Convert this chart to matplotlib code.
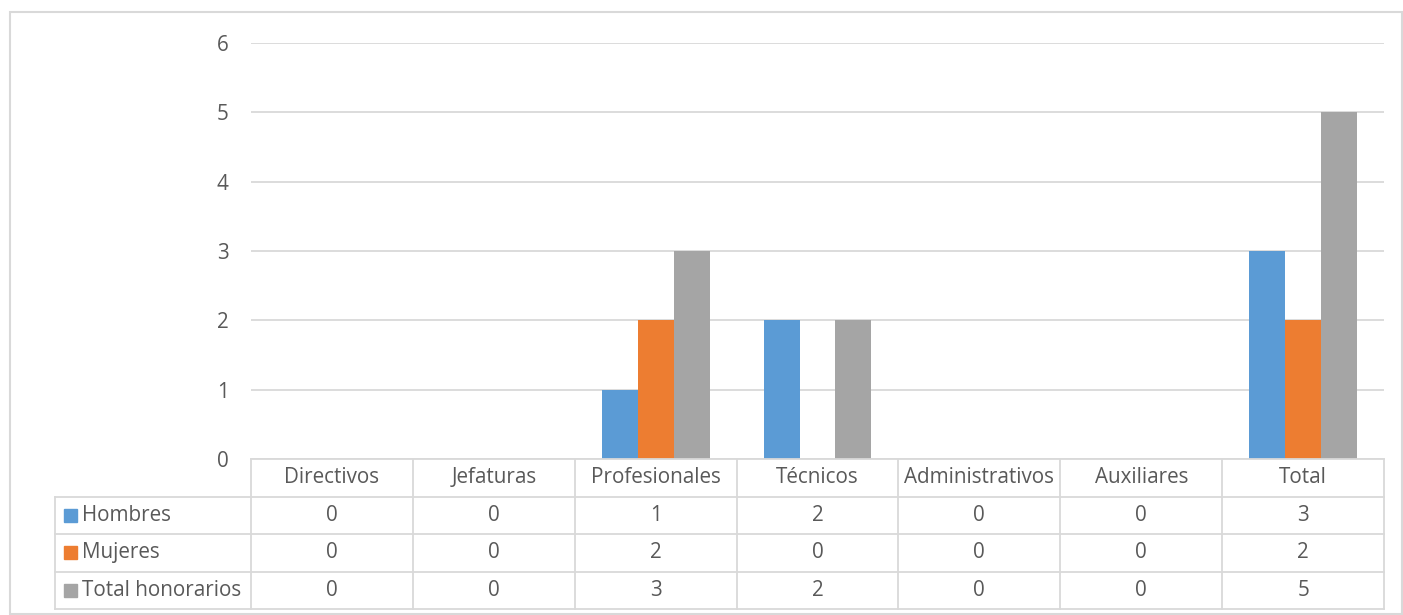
import matplotlib
matplotlib.use("Agg")
import matplotlib.pyplot as plt
from matplotlib.patches import Rectangle

categories = ["Directivos", "Jefaturas", "Profesionales", "Técnicos", "Administrativos", "Auxiliares", "Total"]
series_names = ["Hombres", "Mujeres", "Total honorarios"]
hombres = [0, 0, 1, 2, 0, 0, 3]
mujeres = [0, 0, 2, 0, 0, 0, 2]
total_hon = [0, 0, 3, 2, 0, 0, 5]
yticks = [0, 1, 2, 3, 4, 5, 6]

series = [hombres, mujeres, total_hon]
colors = ["#5b9bd5", "#ed7d31", "#a5a5a5"]
txt = "#595959"
gridc = "#d9d9d9"
FONT = "Open Sans"
FS = 14.9

W, H = 1403, 615
fig = plt.figure(figsize=(W / 100, H / 100), dpi=100)

def fx(px):
    return px / W

def fy(py):
    return 1 - py / H

# outer border
fig.add_artist(Rectangle((fx(10), fy(614)), fx(1402) - fx(10), fy(12) - fy(614),
                         transform=fig.transFigure, fill=False, edgecolor=gridc, lw=1.5))

x0, x1 = 251, 1384
ytop, ybase = 43, 459
ax = fig.add_axes([fx(x0), fy(ybase), fx(x1) - fx(x0), fy(ytop) - fy(ybase)])
n = len(categories)
ax.set_xlim(-0.5, n - 0.5)
ax.set_ylim(0, 6)
for s in ax.spines.values():
    s.set_visible(False)
ax.set_xticks([])
ax.set_yticks(yticks)
ax.set_yticklabels([str(v) for v in yticks], fontfamily=FONT, fontsize=FS, color=txt)
ax.tick_params(axis="y", length=0, pad=16)
for v in yticks:
    ax.axhline(v, color=gridc, lw=1.3, zorder=0)

bw = 0.222
for i, (vals, c) in enumerate(zip(series, colors)):
    xs = [k + (i - 1) * bw for k in range(n)]
    ax.bar(xs, vals, width=bw, color=c, zorder=2)

# data table
colw = (x1 - x0) / n
tl = 55
tax = fig.add_axes([fx(tl), fy(609), fx(x1) - fx(tl), fy(ybase) - fy(609)])
xl = -0.5 - (x0 - tl) / colw
tax.set_xlim(xl, n - 0.5)
tax.set_ylim(4, 0)
tax.axis("off")
lw = 1.3
tax.plot([-0.5, n - 0.5], [0, 0], color=gridc, lw=lw, clip_on=False)
for r in range(1, 5):
    tax.plot([xl, n - 0.5], [r, r], color=gridc, lw=lw, clip_on=False)
tax.plot([xl, xl], [1, 4], color=gridc, lw=lw, clip_on=False)
for k in range(n + 1):
    tax.plot([k - 0.5, k - 0.5], [0, 4], color=gridc, lw=lw, clip_on=False)

for k, cat in enumerate(categories):
    tax.text(k, 0.5, cat, ha="center", va="center", fontfamily=FONT, fontsize=FS, color=txt)
sq_w = 13 / colw
sq_h = 13 / 37.5
for r, (name, vals, c) in enumerate(zip(series_names, series, colors)):
    yc = r + 1.5
    tax.add_patch(Rectangle((xl + 9 / colw, yc - sq_h / 2), sq_w, sq_h, color=c, clip_on=False))
    tax.text(xl + 27 / colw, yc, name, ha="left", va="center", fontfamily=FONT, fontsize=FS, color=txt)
    for k, v in enumerate(vals):
        tax.text(k, yc, str(v), ha="center", va="center", fontfamily=FONT, fontsize=FS, color=txt)

fig.savefig("out.png", dpi=100)
